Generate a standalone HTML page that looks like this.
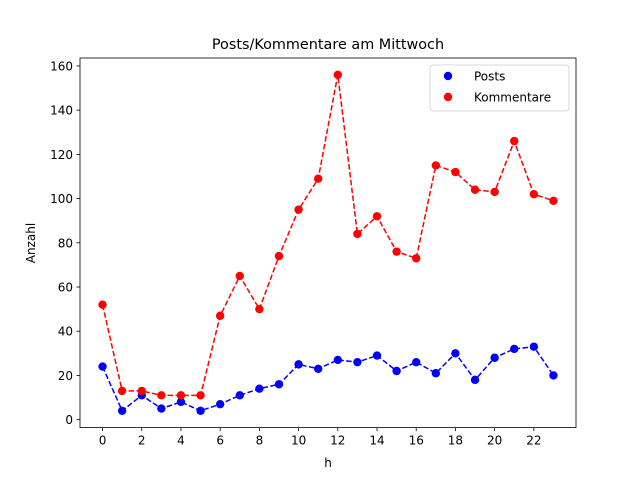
<!DOCTYPE html>
<html><head><meta charset="utf-8"><style>
body{margin:0;background:#fff}
svg{font-family:"DejaVu Sans","Liberation Sans",sans-serif}
</style></head><body>
<svg id="chart" width="640" height="480" viewBox="0 0 640 480">
<rect x="0" y="0" width="640" height="480" fill="#fff"/>
<text x="328" y="49" font-size="14.4" text-anchor="middle">Posts/Kommentare am Mittwoch</text>
<g id="plot"></g>
<rect x="80" y="58" width="496" height="369.6" fill="none" stroke="#000" stroke-width="0.8"/>
<text x="328" y="467" font-size="12" text-anchor="middle">h</text>
<text x="35" y="243" font-size="12" text-anchor="middle" transform="rotate(-90 35 243)">Anzahl</text>
<g>
<rect x="430" y="65" width="139" height="46" rx="3" fill="#fff" fill-opacity="0.8" stroke="#ccc" stroke-width="0.8"/>
<g><circle cx="448" cy="76" r="4.2" fill="blue"/><text x="474" y="80.5" font-size="12">Posts</text></g>
<g><circle cx="448" cy="97" r="4.2" fill="red"/><text x="474" y="101.5" font-size="12">Kommentare</text></g>
</g>
</svg>
<script>
const hours=[0,1,2,3,4,5,6,7,8,9,10,11,12,13,14,15,16,17,18,19,20,21,22,23];
const posts=[24,4,11,5,8,4,7,11,14,16,25,23,27,26,29,22,26,21,30,18,28,32,33,20];
const kommentare=[52,13,13,11,11,11,47,65,50,74,95,109,156,84,92,76,73,115,112,104,103,126,102,99];
const xTicks=[0,2,4,6,8,10,12,14,16,18,20,22];
const yTicks=[0,20,40,60,80,100,120,140,160];
const L=80,R=576,T=58,B=427.6;
const xmin=-1.15,xmax=24.15,ymin=-3.6,ymax=163.6;
const sx=v=>L+(v-xmin)/(xmax-xmin)*(R-L);
const sy=v=>B-(v-ymin)/(ymax-ymin)*(B-T);
const NS="http://www.w3.org/2000/svg";
const g=document.getElementById('plot');
function mk(t,a,p){const e=document.createElementNS(NS,t);for(const k in a)e.setAttribute(k,a[k]);(p||g).appendChild(e);return e;}
xTicks.forEach(v=>{const x=sx(v);
 const l=mk('line',{x1:x,x2:x,y1:B,y2:B+3.5,stroke:'#000','stroke-width':0.8});
 
 
 const t=mk('text',{x:x,y:B+17,'font-size':12,'text-anchor':'middle'});t.textContent=v;
 
 });
yTicks.forEach(v=>{const y=sy(v);
 const l=mk('line',{x1:L-3.5,x2:L,y1:y,y2:y,stroke:'#000','stroke-width':0.8});
 
 
 const t=mk('text',{x:L-7,y:y+4.5,'font-size':12,'text-anchor':'end'});t.textContent=v;
 
 });
function series(vals,color,name){
 const p=mk('polyline',{points:vals.map((v,i)=>sx(hours[i])+','+sy(v)).join(' '),fill:'none',stroke:color,'stroke-width':1.5,'stroke-dasharray':'5.5,2.4'});
 
 
 vals.forEach((v,i)=>{const c=mk('circle',{cx:sx(hours[i]),cy:sy(v),r:4.2,fill:color});
  
  });
}
series(posts,'blue','posts');
series(kommentare,'red','kommentare');
</script>
</body></html>
